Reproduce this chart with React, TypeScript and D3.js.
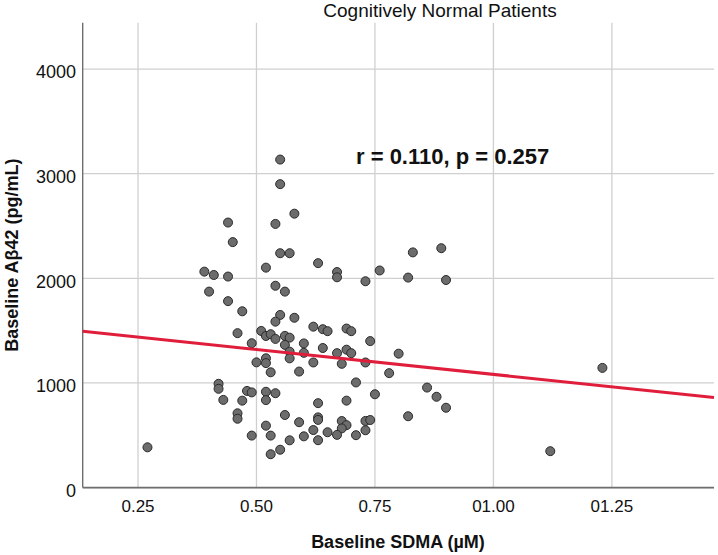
import React from "react";
import * as d3 from "d3";

const sdma: number[] = [
  0.27, 0.55, 0.55, 0.58, 0.44, 0.54, 0.45, 0.55, 0.57, 0.89, 0.83, 0.63, 0.52, 0.39, 0.41, 0.44,
  0.67, 0.67, 0.76, 0.82, 0.90, 0.73, 0.54, 0.40, 0.56, 0.44, 0.47, 0.55, 0.58, 0.54, 0.62, 0.64,
  0.65, 0.69, 0.70, 0.46, 0.51, 0.52, 0.53, 0.54, 0.56, 0.57, 0.49, 0.60, 0.56, 0.74, 0.64, 0.69,
  0.57, 0.60, 0.67, 0.70, 0.80, 0.52, 0.57, 0.50, 0.52, 0.62, 0.68, 0.73, 0.53, 0.59, 0.78, 0.71,
  0.42, 0.42, 0.48, 0.49, 0.52, 0.54, 0.75, 0.86, 0.88, 0.90, 0.43, 0.47, 0.52, 0.69, 0.63, 0.46,
  0.46, 0.56, 0.63, 0.63, 0.82, 0.59, 0.68, 0.69, 0.73, 0.74, 0.52, 0.62, 0.65, 0.68, 0.73, 0.49,
  0.53, 0.60, 0.67, 0.71, 0.57, 0.63, 0.55, 0.53, 1.12, 1.23,
];

const abeta42: number[] = [
  385, 3135, 2900, 2618, 2533, 2520, 2346, 2240, 2240, 2288, 2248, 2145, 2102, 2064, 2032, 2017,
  2060, 2010, 2075, 2007, 1984, 1972, 1929, 1873, 1873, 1782, 1685, 1650, 1623, 1586, 1538, 1514,
  1495, 1520, 1495, 1476, 1497, 1449, 1466, 1421, 1450, 1433, 1380, 1378, 1364, 1400, 1334, 1318,
  1299, 1288, 1285, 1285, 1280, 1236, 1235, 1197, 1190, 1196, 1183, 1196, 1102, 1109, 1094, 1005,
  992, 944, 924, 910, 916, 902, 892, 956, 868, 763, 838, 831, 836, 831, 807, 710,
  658, 694, 671, 647, 682, 625, 636, 597, 637, 646, 592, 550, 529, 566, 548, 497,
  497, 490, 504, 501, 452, 453, 362, 319, 348, 1144,
];

const xTickValues: number[] = [0.25, 0.5, 0.75, 1.0, 1.25];
const xTickLabels: string[] = ["0.25", "0.50", "0.75", "01.00", "01.25"];
const yTickValues: number[] = [0, 1000, 2000, 3000, 4000];
const yTickLabels: string[] = ["0", "1000", "2000", "3000", "4000"];

const xDomain: [number, number] = [0.1333, 1.4655];
const yDomain: [number, number] = [0, 4443];

const fitIntercept = 1557;
const fitSlope = -475;

const titleText = "Cognitively Normal Patients";
const statText = "r = 0.110, p = 0.257";
const xTitle = "Baseline SDMA (\u00b5M)";
const yTitle = "Baseline A\u03b242 (pg/mL)";

const W = 718;
const H = 555;
const L = 82.7;
const R = 714;
const T = 22.7;
const B = 487.6;
const FONT = "Arial, 'Liberation Sans', Helvetica, sans-serif";

export default function App() {
  const x = d3.scaleLinear().domain(xDomain).range([L, R]);
  const y = d3.scaleLinear().domain(yDomain).range([B, T]);
  const fitLine = d3
    .line<number>()
    .x((d) => x(d))
    .y((d) => y(fitIntercept + fitSlope * d));
  const points = sdma.map((v, i) => [v, abeta42[i]] as [number, number]);

  return (
    <svg
      width={W}
      height={H}
      viewBox={`0 0 ${W} ${H}`}
      style={{ position: "absolute", left: 0, top: 0, display: "block", background: "#fff" }}
      fontFamily={FONT}
    >
      <rect x={0} y={0} width={W} height={H} fill="#ffffff" />
      {/* grid */}
      {yTickValues.map((v) => (
        <line key={"gy" + v} x1={L} x2={R} y1={y(v)} y2={y(v)} stroke="#cfcfcf" strokeWidth={1.3} />
      ))}
      {xTickValues.map((v) => (
        <line key={"gx" + v} x1={x(v)} x2={x(v)} y1={T} y2={B} stroke="#cfcfcf" strokeWidth={1.3} />
      ))}
      {/* axes */}
      <line x1={L} x2={L} y1={T} y2={B} stroke="#6e6e6e" strokeWidth={1.4} />
      <line x1={L} x2={R} y1={B} y2={B} stroke="#6e6e6e" strokeWidth={1.6} />
      {/* tick labels */}
      {yTickValues.map((v, i) => (
        <text key={"ty" + v} x={76} y={y(v) + 9.3} textAnchor="end" fontSize={18} fill="#111">
          {yTickLabels[i]}
        </text>
      ))}
      {xTickValues.map((v, i) => (
        <text key={"tx" + v} x={x(v)} y={512} textAnchor="middle" fontSize={17} fill="#111">
          {xTickLabels[i]}
        </text>
      ))}
      {/* points */}
      {points.map((p, i) => (
        <circle
          key={"p" + i}
          cx={x(p[0])}
          cy={y(p[1])}
          r={4.5}
          fill="#6c6c6c"
          stroke="#2a2a2a"
          strokeWidth={1}
        />
      ))}
      {/* fit line */}
      <path d={fitLine(xDomain) || ""} fill="none" stroke="#e01e3c" strokeWidth={3} />
      {/* texts */}
      <text x={440} y={17} textAnchor="middle" fontSize={19} fill="#111">
        {titleText}
      </text>
      <text x={356} y={164.3} fontSize={22} fontWeight="bold" fill="#111">
        {statText}
      </text>
      <text x={398} y={548} textAnchor="middle" fontSize={18} fontWeight="bold" fill="#111">
        {xTitle}
      </text>
      <text
        transform={`translate(18, ${(T + B) / 2}) rotate(-90)`}
        textAnchor="middle"
        fontSize={18}
        fontWeight="bold"
        fill="#111"
      >
        {yTitle}
      </text>
    </svg>
  );
}
